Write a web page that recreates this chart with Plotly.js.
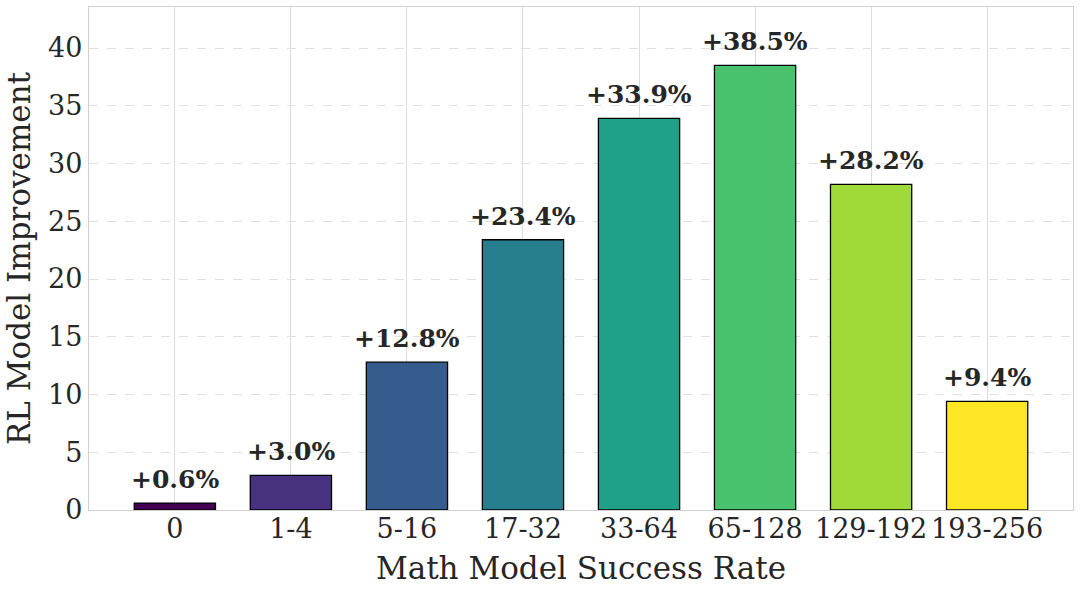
<!DOCTYPE html>
<html>
<head>
<meta charset="utf-8">
<script src="https://cdn.plot.ly/plotly-3.0.1.min.js"></script>
<style>html,body{margin:0;padding:0;background:#fff;}#chart{width:1080px;height:592px;}</style>
</head>
<body>
<div id="chart"></div>
<script>
const categories = ["0", "1-4", "5-16", "17-32", "33-64", "65-128", "129-192", "193-256"];
const improvement = [0.6, 3.0, 12.8, 23.4, 33.9, 38.5, 28.2, 9.4];
const barColors = ["#440154", "#46327e", "#365c8d", "#277f8e", "#1fa187", "#4ac16d", "#a0da39", "#fde725"];
const yTicks = [0, 5, 10, 15, 20, 25, 30, 35, 40];

const font = "DejaVu Serif, serif";
const textColor = "#262626";

const trace = {
  type: "bar",
  x: categories,
  y: improvement,
  width: 0.7,
  marker: {color: barColors, line: {color: "#000000", width: 1.3}},
  hoverinfo: "skip"
};

const annotations = categories.map((c, i) => ({
  x: c, y: improvement[i], xref: "x", yref: "y",
  text: "<b>+" + improvement[i].toFixed(1) + "%</b>",
  showarrow: false, yanchor: "bottom", yshift: 7,
  font: {family: font, size: 25, color: textColor}
}));

const layout = {
  width: 1080, height: 592,
  margin: {l: 89, r: 7, t: 7, b: 82},
  paper_bgcolor: "#ffffff",
  plot_bgcolor: "#ffffff",
  font: {family: font, color: textColor},
  showlegend: false,
  xaxis: {
    type: "category",
    range: [-0.74, 7.74],
    tickfont: {family: font, size: 27, color: textColor},
    ticklabelstandoff: -6,
    showgrid: true, gridcolor: "#dcdcdc", gridwidth: 1,
    showline: true, mirror: true, linecolor: "#d0d0d0", linewidth: 1.2,
    ticks: "", ticklen: 0,
    title: {text: "Math Model Success Rate", font: {family: font, size: 31, color: textColor}, standoff: 14},
    fixedrange: true
  },
  yaxis: {
    range: [0, 43.55],
    tickvals: yTicks,
    tickfont: {family: font, size: 27, color: textColor},
    showgrid: true, gridcolor: "#e0e0e0", gridwidth: 1, griddash: "dash",
    showline: true, mirror: true, linecolor: "#d0d0d0", linewidth: 1.2,
    zeroline: false,
    ticks: "", ticklen: 0,
    title: {text: "RL Model Improvement", font: {family: font, size: 31, color: textColor}, standoff: 8},
    fixedrange: true
  },
  annotations: annotations,
  bargap: 0.3
};

Plotly.newPlot("chart", [trace], layout, {displayModeBar: false, staticPlot: true});
</script>
</body>
</html>
